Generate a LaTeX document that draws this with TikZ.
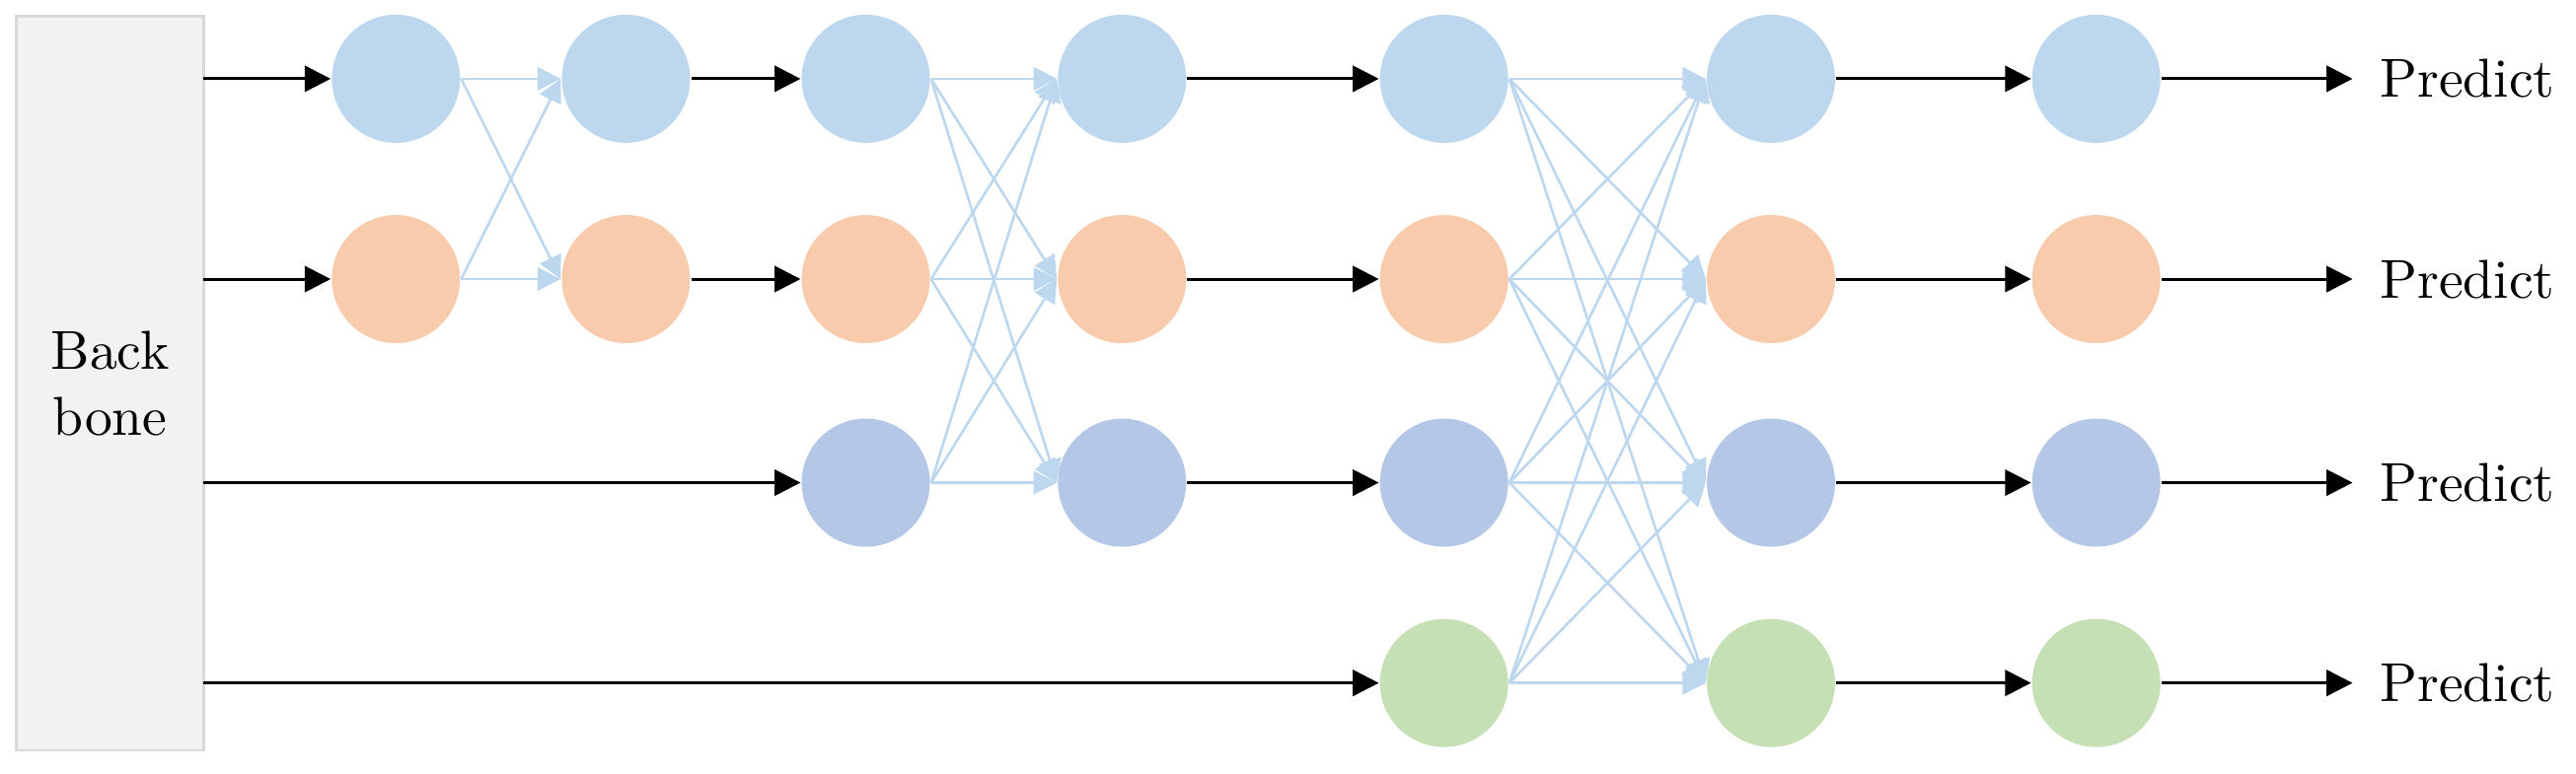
\documentclass[tikz,border=0pt]{standalone}
\usetikzlibrary{arrows.meta}
\definecolor{cb}{HTML}{BDD7EE}
\definecolor{co}{HTML}{F8CBAD}
\definecolor{cd}{HTML}{B4C7E7}
\definecolor{cg}{HTML}{C5E0B4}
\definecolor{bb}{HTML}{F2F2F2}
\begin{document}
\begin{tikzpicture}[x=0.01cm,y=-0.01cm,
  nd/.style={circle,minimum size=0.78cm,inner sep=0pt,draw=none},
  blk/.style={draw=black,line width=0.5pt,-{Triangle[length=4.5pt,width=4.5pt]}},
  lb/.style={draw=cb,line width=0.45pt,-{Triangle[length=4pt,width=4pt]}},
  txt/.style={font=\fontsize{9.5}{11.5}\selectfont}]
\useasboundingbox (0,0) rectangle (1568,471);
\node[draw=gray!30,fill=bb,minimum width=1.14cm,minimum height=4.47cm,inner sep=0pt,
  align=center,txt] (bbn) at (67,233.5) {Back\\bone};
\def\ry#1{\ifcase#1\or48\or170\or294\or416\fi}
\foreach \c/\x/\rows in {1/241/{1,2},2/381/{1,2},3/527/{1,2,3},4/683/{1,2,3},5/879/{1,2,3,4},6/1078/{1,2,3,4},7/1276/{1,2,3,4}}{
  \foreach \r in \rows {
    \ifcase\r\or\def\col{cb}\or\def\col{co}\or\def\col{cd}\or\def\col{cg}\fi
    \node[nd,fill=\col] (n\c\r) at (\x,\ry{\r}) {};
  }
}
\foreach \r in {1,2,3,4}{
  \coordinate (b\r) at (124,\ry{\r});
  \coordinate (p\r) at (1432,\ry{\r});
  \node[txt,anchor=west,inner sep=0pt] (t\r) at (1448,\ry{\r}) {Predict};
}
\draw[blk] (b1) -- (n11.west);
\draw[blk] (b2) -- (n12.west);
\draw[blk] (b3) -- (n33.west);
\draw[blk] (b4) -- (n54.west);
\foreach \r in {1,2}{\draw[blk] (n2\r.east) -- (n3\r.west);}
\foreach \r in {1,2,3}{\draw[blk] (n4\r.east) -- (n5\r.west);}
\foreach \r in {1,2,3,4}{\draw[blk] (n6\r.east) -- (n7\r.west); \draw[blk] (n7\r.east) -- (p\r);}
\foreach \a in {1,2}{\foreach \b in {1,2}{\draw[lb] (n1\a.east) -- (n2\b.west);}}
\foreach \a in {1,2,3}{\foreach \b in {1,2,3}{\draw[lb] (n3\a.east) -- (n4\b.west);}}
\foreach \a in {1,2,3,4}{\foreach \b in {1,2,3,4}{\draw[lb] (n5\a.east) -- (n6\b.west);}}
\end{tikzpicture}
\end{document}
